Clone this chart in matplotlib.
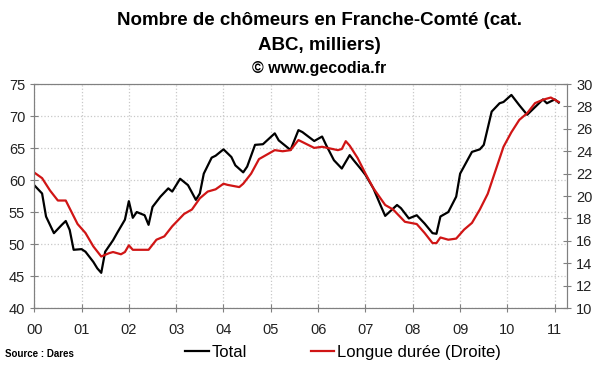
import matplotlib
matplotlib.use("Agg")
import matplotlib.pyplot as plt
from matplotlib.ticker import MultipleLocator

plt.rcParams['font.family'] = ['Liberation Sans', 'DejaVu Sans']

# months since January 2000
total_months = [0, 2, 3, 5, 7, 8, 9, 10, 12, 13, 15, 16, 17, 18, 20, 21, 23, 24, 25, 26,
                28, 29, 30, 32, 34, 35, 37, 39, 41, 42, 43, 45, 46, 48, 50, 51, 53, 54, 56, 58,
                61, 62, 64, 65, 67, 68, 71, 73, 74, 76, 78, 80, 81, 83, 84, 86, 88, 89, 92, 93,
                95, 97, 99, 101, 102, 103, 105, 107, 108, 111, 113, 114, 116, 118, 119, 121, 123,
                125, 128, 129, 130, 132, 133]
total = [59.2, 57.9, 54.3, 51.7, 53.0, 53.6, 52.2, 49.1, 49.2, 48.8, 47.2, 46.2, 45.5, 48.8,
         50.6, 51.7, 53.8, 56.7, 54.1, 55.0, 54.5, 53.0, 55.8, 57.4, 58.7, 58.2, 60.2, 59.2,
         56.9, 57.9, 61.0, 63.5, 63.8, 64.8, 63.6, 62.3, 61.2, 62.1, 65.5, 65.6, 67.3, 66.2,
         65.2, 64.7, 67.8, 67.5, 66.1, 66.8, 65.5, 63.1, 61.8, 63.9, 63.1, 61.6, 60.8, 58.7,
         55.8, 54.4, 56.1, 55.6, 54.0, 54.5, 53.2, 51.7, 51.6, 54.3, 55.0, 57.4, 61.0, 64.4,
         64.8, 65.5, 70.7, 72.0, 72.2, 73.3, 71.7, 70.2, 72.0, 72.6, 72.0, 72.6, 72.1]

ld_months = [0, 2, 4, 6, 8, 9, 11, 13, 15, 17, 19, 20, 22, 23, 24, 25, 27, 29, 31, 33,
             35, 38, 40, 42, 44, 46, 48, 49, 52, 53, 55, 57, 59, 61, 63, 65, 67, 71, 73, 77,
             78, 79, 80, 82, 84, 86, 89, 91, 94, 97, 99, 101, 102, 103, 105, 107, 109, 111,
             113, 115, 117, 119, 121, 123, 125, 127, 129, 131, 133]
longue_duree = [22.1, 21.6, 20.5, 19.6, 19.6, 18.9, 17.5, 16.7, 15.5, 14.6, 14.9, 15.0, 14.8,
                15.0, 15.6, 15.2, 15.2, 15.2, 16.1, 16.4, 17.3, 18.4, 18.8, 19.8, 20.4, 20.6,
                21.1, 21.0, 20.8, 21.1, 22.0, 23.3, 23.7, 24.1, 24.0, 24.1, 25.0, 24.3, 24.4,
                24.1, 24.2, 24.9, 24.5, 23.4, 22.0, 20.7, 19.2, 18.8, 17.7, 17.5, 16.7, 15.8,
                15.8, 16.3, 16.1, 16.2, 17.0, 17.6, 18.8, 20.2, 22.3, 24.4, 25.7, 26.8, 27.4,
                28.3, 28.6, 28.8, 28.4]

year_labels = ['00', '01', '02', '03', '04', '05', '06', '07', '08', '09', '10', '11']

fig = plt.figure(figsize=(6, 3.72), dpi=100)
ax = fig.add_axes([0.057, 0.172, 0.888, 0.602])
ax2 = ax.twinx()

ax.plot(total_months, total, color='black', lw=1.6, label='Total')
ax2.plot(ld_months, longue_duree, color='#d01515', lw=1.6, label='Longue durée (Droite)')

ax.set_xlim(0, 135.1)
ax.set_ylim(40, 75)
ax2.set_ylim(10, 30)
ax.set_xticks(range(0, 133, 12))
ax.set_xticklabels(year_labels)
ax.yaxis.set_major_locator(MultipleLocator(5))
ax2.yaxis.set_major_locator(MultipleLocator(2))

ax.grid(True, color='#c8c8c8', linestyle=':', linewidth=0.9)
for a in (ax, ax2):
    for s in a.spines.values():
        s.set_color('#808080')
    a.tick_params(direction='inout', length=6, color='#808080', labelsize=10.5,
                  labelcolor='#222222')
ax.tick_params(axis='x', pad=8)

fig.text(0.532, 0.945, "Nombre de chômeurs en Franche-Comté (cat.", ha='center',
         va='center', fontsize=13.5, fontweight='bold')
fig.text(0.532, 0.877, "ABC, milliers)", ha='center', va='center', fontsize=13.5,
         fontweight='bold')
fig.text(0.532, 0.815, "© www.gecodia.fr", ha='center', va='center', fontsize=11.5,
         fontweight='bold')
fig.text(0.008, 0.04, "Source : Dares", fontsize=7, fontweight='bold')

h1, l1 = ax.get_legend_handles_labels()
h2, l2 = ax2.get_legend_handles_labels()
fig.legend(h1 + h2, l1 + l2, loc='center', bbox_to_anchor=(0.572, 0.053), ncol=2,
           frameon=False, fontsize=12, handlelength=1.4, handletextpad=0.2,
           columnspacing=3.8)

fig.savefig('out.png', dpi=100)
